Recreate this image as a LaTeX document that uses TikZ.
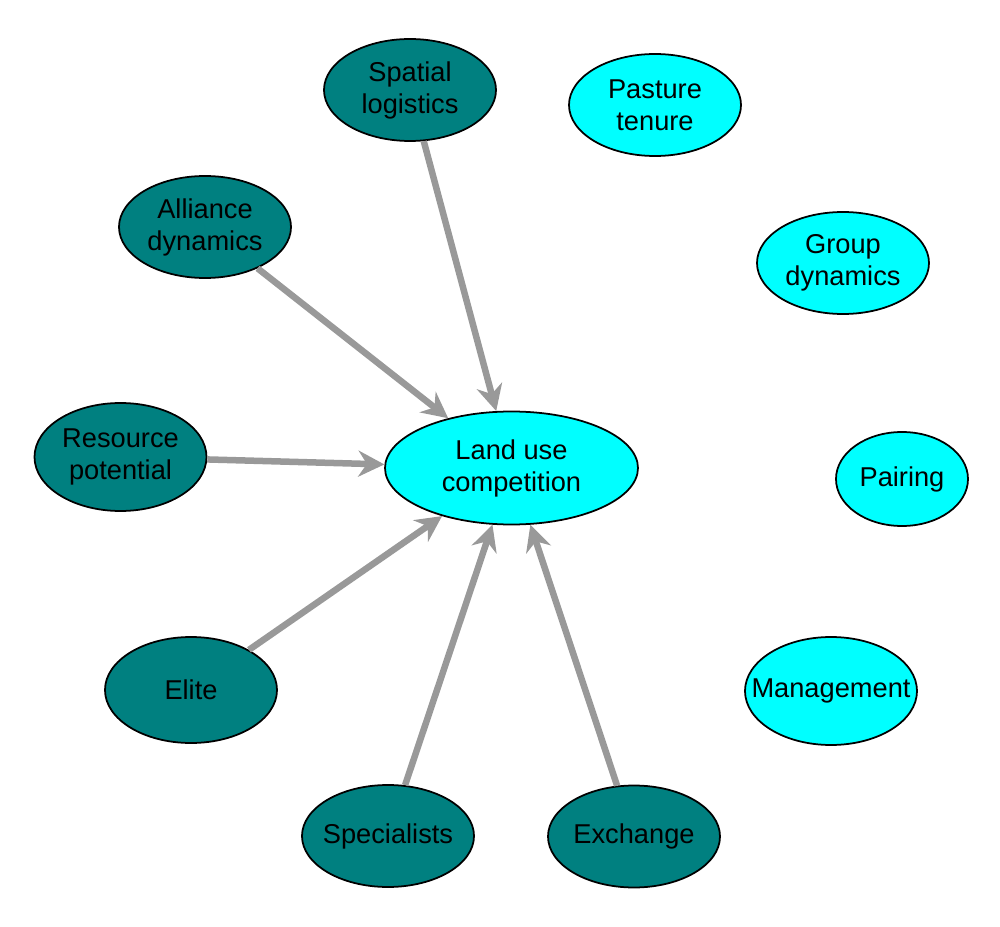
\documentclass[tikz,border=0pt]{standalone}
\usepackage{fontspec}
\setmainfont{Liberation Sans}
\usetikzlibrary{arrows.meta,shapes.geometric}

\definecolor{tealfill}{HTML}{008080}
\definecolor{cyanfill}{HTML}{00FFFF}
\definecolor{arrowgray}{HTML}{999999}

\begin{document}
\begin{tikzpicture}[>=Stealth]

\tikzset{
  factor/.style={
    ellipse, draw, line width=1pt, fill=tealfill,
    align=center, inner sep=0pt, inner xsep=-0.45cm,
    minimum width=3.44cm, minimum height=2.04cm,
    font=\fontsize{15.5}{18.2}\selectfont
  },
  other/.style={factor, fill=cyanfill},
  arrow/.style={line width=3.7pt, draw=arrowgray,
    -{Stealth[length=5.2mm, width=5.2mm, inset=1.7mm]}}
}

\useasboundingbox (0,0) rectangle (20,18.52);

% ==========================
% Central node
% ==========================
\node[other, minimum width=5.06cm, minimum height=2.26cm] (land) at (10.23,9.16)
{Land use\\competition};

% ==========================
% Driving factors (teal)
% ==========================
\node[factor] (spatial) at (8.2,16.72) {Spatial\\logistics};
\node[factor] (alliance) at (4.1,13.98) {Alliance\\dynamics};
\node[factor, minimum height=2.16cm] (resource) at (2.41,9.38) {Resource\\potential};
\node[factor, minimum height=2.12cm] (elite) at (3.82,4.72) {Elite};
\node[factor] (special) at (7.76,1.8) {Specialists};
\node[factor] (exchange) at (12.68,1.79) {Exchange};

% ==========================
% Unlinked factors (cyan)
% ==========================
\node[other] (pasture) at (13.1,16.42) {Pasture\\tenure};
\node[other] (group) at (16.86,13.26) {Group\\dynamics};
\node[other, minimum width=2.64cm, minimum height=1.88cm] (pairing) at (18.04,8.94) {Pairing};
\node[other, minimum height=2.16cm] (manage) at (16.62,4.7) {Management};

% Arrows into land use competition
\draw[arrow] (spatial) -- (land);
\draw[arrow] (alliance) -- (land);
\draw[arrow] (resource) -- (land);
\draw[arrow] (elite) -- (land);
\draw[arrow] (special) -- (land);
\draw[arrow] (exchange) -- (land);

\end{tikzpicture}
\end{document}
